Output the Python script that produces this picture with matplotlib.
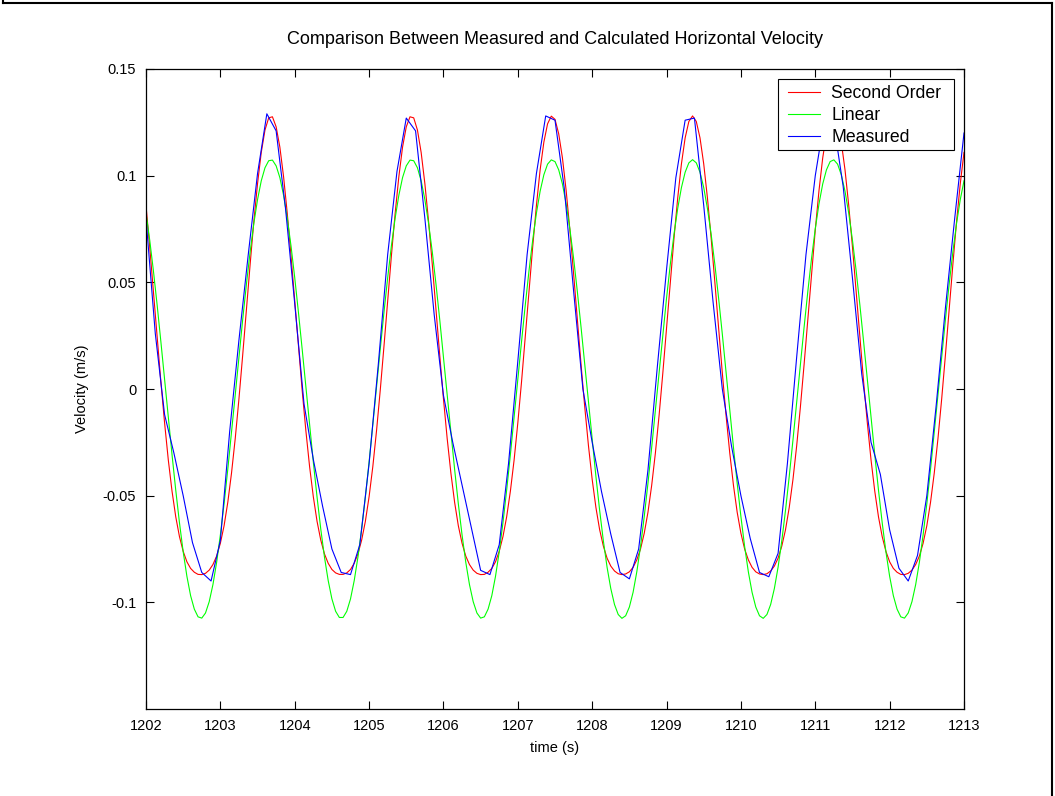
import numpy as np
import matplotlib
matplotlib.use("Agg")
import matplotlib.pyplot as plt
from matplotlib.lines import Line2D
from matplotlib.patches import Rectangle

# Model curves read every 0.05 s, measured record every 0.125 s
model_t0, model_dt = 1202.0, 0.05
meas_t0, meas_dt = 1202.0, 0.125

second_order = [
    0.0860, 0.0666, 0.0456, 0.0243, 0.0034, -0.0159, -0.0333, -0.0479, -0.0599, -0.0692,
    -0.0761, -0.0810, -0.0841, -0.0859, -0.0869, -0.0870, -0.0864, -0.0849, -0.0823, -0.0783,
    -0.0723, -0.0641, -0.0531, -0.0394, -0.0232, -0.0046, 0.0158, 0.0370, 0.0583, 0.0785,
    0.0963, 0.1109, 0.1214, 0.1271, 0.1276, 0.1229, 0.1134, 0.0995, 0.0822, 0.0625,
    0.0414, 0.0200, -0.0006, -0.0196, -0.0364, -0.0505, -0.0620, -0.0708, -0.0773, -0.0817,
    -0.0846, -0.0862, -0.0869, -0.0869, -0.0862, -0.0846, -0.0817, -0.0773, -0.0708, -0.0620,
    -0.0505, -0.0364, -0.0196, -0.0006, 0.0200, 0.0414, 0.0625, 0.0822, 0.0995, 0.1134,
    0.1229, 0.1276, 0.1271, 0.1214, 0.1109, 0.0963, 0.0785, 0.0583, 0.0370, 0.0158,
    -0.0046, -0.0232, -0.0394, -0.0531, -0.0641, -0.0723, -0.0783, -0.0823, -0.0849, -0.0864,
    -0.0870, -0.0869, -0.0859, -0.0841, -0.0810, -0.0761, -0.0692, -0.0599, -0.0479, -0.0333,
    -0.0159, 0.0034, 0.0243, 0.0456, 0.0666, 0.0860, 0.1027, 0.1157, 0.1243, 0.1279,
    0.1264, 0.1196, 0.1083, 0.0930, 0.0746, 0.0541, 0.0328, 0.0116, -0.0084, -0.0266,
    -0.0424, -0.0555, -0.0659, -0.0736, -0.0793, -0.0830, -0.0853, -0.0866, -0.0870, -0.0867,
    -0.0857, -0.0836, -0.0801, -0.0750, -0.0676, -0.0578, -0.0452, -0.0300, -0.0123, 0.0075,
    0.0285, 0.0499, 0.0706, 0.0895, 0.1055, 0.1177, 0.1254, 0.1280, 0.1254, 0.1177,
    0.1055, 0.0895, 0.0706, 0.0499, 0.0285, 0.0075, -0.0123, -0.0300, -0.0452, -0.0578,
    -0.0676, -0.0750, -0.0801, -0.0836, -0.0857, -0.0867, -0.0870, -0.0866, -0.0853, -0.0830,
    -0.0793, -0.0736, -0.0659, -0.0555, -0.0424, -0.0266, -0.0084, 0.0116, 0.0328, 0.0541,
    0.0746, 0.0930, 0.1083, 0.1196, 0.1264, 0.1279, 0.1243, 0.1157, 0.1027, 0.0860,
    0.0666, 0.0456, 0.0243, 0.0034, -0.0159, -0.0333, -0.0479, -0.0599, -0.0692, -0.0761,
    -0.0810, -0.0841, -0.0859, -0.0869, -0.0870, -0.0864, -0.0849, -0.0823, -0.0783, -0.0723,
    -0.0641, -0.0531, -0.0394, -0.0232, -0.0046, 0.0158, 0.0370, 0.0583, 0.0785, 0.0963,
    0.1109,
]

linear = [
    0.0824, 0.0698, 0.0553, 0.0393, 0.0222, 0.0045, -0.0134, -0.0308, -0.0474, -0.0627,
    -0.0763, -0.0878, -0.0969, -0.1032, -0.1068, -0.1074, -0.1050, -0.0997, -0.0917, -0.0812,
    -0.0684, -0.0538, -0.0376, -0.0204, -0.0027, 0.0151, 0.0325, 0.0490, 0.0642, 0.0776,
    0.0888, 0.0976, 0.1037, 0.1070, 0.1073, 0.1046, 0.0991, 0.0908, 0.0800, 0.0671,
    0.0522, 0.0359, 0.0187, 0.0009, -0.0169, -0.0342, -0.0506, -0.0656, -0.0788, -0.0898,
    -0.0984, -0.1042, -0.1071, -0.1071, -0.1042, -0.0984, -0.0898, -0.0788, -0.0656, -0.0506,
    -0.0342, -0.0169, 0.0009, 0.0187, 0.0359, 0.0522, 0.0671, 0.0800, 0.0908, 0.0991,
    0.1046, 0.1073, 0.1070, 0.1037, 0.0976, 0.0888, 0.0776, 0.0642, 0.0490, 0.0325,
    0.0151, -0.0027, -0.0204, -0.0376, -0.0538, -0.0684, -0.0812, -0.0917, -0.0997, -0.1050,
    -0.1074, -0.1068, -0.1032, -0.0969, -0.0878, -0.0763, -0.0627, -0.0474, -0.0308, -0.0134,
    0.0045, 0.0222, 0.0393, 0.0553, 0.0698, 0.0824, 0.0927, 0.1004, 0.1054, 0.1074,
    0.1066, 0.1027, 0.0961, 0.0868, 0.0751, 0.0613, 0.0458, 0.0291, 0.0116, -0.0062,
    -0.0239, -0.0409, -0.0568, -0.0711, -0.0835, -0.0935, -0.1010, -0.1057, -0.1075, -0.1063,
    -0.1022, -0.0953, -0.0857, -0.0738, -0.0598, -0.0442, -0.0274, -0.0098, 0.0080, 0.0257,
    0.0426, 0.0583, 0.0725, 0.0846, 0.0944, 0.1016, 0.1060, 0.1075, 0.1060, 0.1016,
    0.0944, 0.0846, 0.0725, 0.0583, 0.0426, 0.0257, 0.0080, -0.0098, -0.0274, -0.0442,
    -0.0598, -0.0738, -0.0857, -0.0953, -0.1022, -0.1063, -0.1075, -0.1057, -0.1010, -0.0935,
    -0.0835, -0.0711, -0.0568, -0.0409, -0.0239, -0.0062, 0.0116, 0.0291, 0.0458, 0.0613,
    0.0751, 0.0868, 0.0961, 0.1027, 0.1066, 0.1074, 0.1054, 0.1004, 0.0927, 0.0824,
    0.0698, 0.0553, 0.0393, 0.0222, 0.0045, -0.0134, -0.0308, -0.0474, -0.0627, -0.0763,
    -0.0878, -0.0969, -0.1032, -0.1068, -0.1074, -0.1050, -0.0997, -0.0917, -0.0812, -0.0684,
    -0.0538, -0.0376, -0.0204, -0.0027, 0.0151, 0.0325, 0.0490, 0.0642, 0.0776, 0.0888,
    0.0976,
]

measured = [
    0.080, 0.026, -0.012, -0.030, -0.050, -0.072, -0.086, -0.090, -0.071, -0.020,
    0.023, 0.063, 0.101, 0.129, 0.121, 0.085, 0.040, -0.007, -0.033, -0.055,
    -0.075, -0.086, -0.087, -0.073, -0.035, 0.012, 0.063, 0.102, 0.127, 0.121,
    0.080, 0.035, -0.003, -0.025, -0.045, -0.065, -0.085, -0.087, -0.073, -0.035,
    0.013, 0.063, 0.101, 0.128, 0.126, 0.094, 0.046, 0.000, -0.025, -0.048,
    -0.068, -0.086, -0.089, -0.075, -0.038, 0.010, 0.056, 0.099, 0.126, 0.127,
    0.086, 0.041, 0.000, -0.027, -0.050, -0.070, -0.086, -0.088, -0.077, -0.035,
    0.015, 0.063, 0.100, 0.127, 0.124, 0.095, 0.052, 0.007, -0.025, -0.040,
    -0.066, -0.084, -0.090, -0.078, -0.050, -0.008, 0.038, 0.080, 0.120,
]

series_labels = ["Second Order", "Linear", "Measured"]
x_ticks = list(range(1202, 1214))
y_ticks = [-0.1, -0.05, 0, 0.05, 0.1, 0.15]
y_tick_labels = ["-0.1", "-0.05", "0", "0.05", "0.1", "0.15"]


def main():
    plt.rcParams["font.family"] = ["Liberation Sans", "DejaVu Sans"]

    W, H = 1055, 796
    fig = plt.figure(figsize=(W / 100, H / 100), dpi=100)
    ax = fig.add_axes([146 / W, 1 - 709 / H, 818 / W, 640 / H])

    t_model = model_t0 + model_dt * np.arange(len(linear))
    t_meas = meas_t0 + meas_dt * np.arange(len(measured))

    ax.plot(t_model, second_order, color="#ff0000", lw=0.8, label=series_labels[0])
    ax.plot(t_model, linear, color="#00ff00", lw=0.8, label=series_labels[1])
    ax.plot(t_meas, measured, color="#0000ff", lw=0.8, label=series_labels[2])

    ax.set_xlim(1202, 1213)
    ax.set_ylim(-0.15, 0.15)
    ax.set_xticks(x_ticks)
    ax.set_xticklabels([str(v) for v in x_ticks])
    ax.set_yticks(y_ticks)
    ax.set_yticklabels(y_tick_labels)
    ax.tick_params(direction="in", top=True, right=True, length=6,
                   width=0.8, labelsize=10.5, pad=7)
    for sp in ax.spines.values():
        sp.set_linewidth(0.9)

    ax.set_title("Comparison Between Measured and Calculated Horizontal Velocity",
                 fontsize=13, pad=18)
    ax.set_xlabel("time (s)", fontsize=10.5, labelpad=6)
    ax.set_ylabel("Velocity (m/s)", fontsize=10.5, labelpad=10)

    # legend entries without frame, box drawn separately (MATLAB-style padding)
    leg = ax.legend(loc="upper left", bbox_to_anchor=((788 - 146) / 818, (709 - 85) / 640),
                    borderaxespad=0, borderpad=0, frameon=False,
                    fontsize=12.7, handlelength=1.82, handletextpad=0.62,
                    labelspacing=0.28)
    leg.set_zorder(5)
    ax.add_patch(Rectangle(((778 - 146) / 818, (709 - 150) / 640), 176 / 818, 71 / 640,
                           transform=ax.transAxes, facecolor="white", edgecolor="black",
                           lw=0.8, zorder=4))

    # figure border (open at the bottom, as in the original window capture)
    for xs, ys in [([3, 3], [0, 3]), ([3, 1052], [3, 3]), ([1052, 1052], [3, 796])]:
        fig.add_artist(Line2D([x / W for x in xs], [1 - y / H for y in ys],
                              transform=fig.transFigure, color="black", lw=1.5))

    fig.savefig("out.png", dpi=100)
    plt.close(fig)


if __name__ == "__main__":
    main()
